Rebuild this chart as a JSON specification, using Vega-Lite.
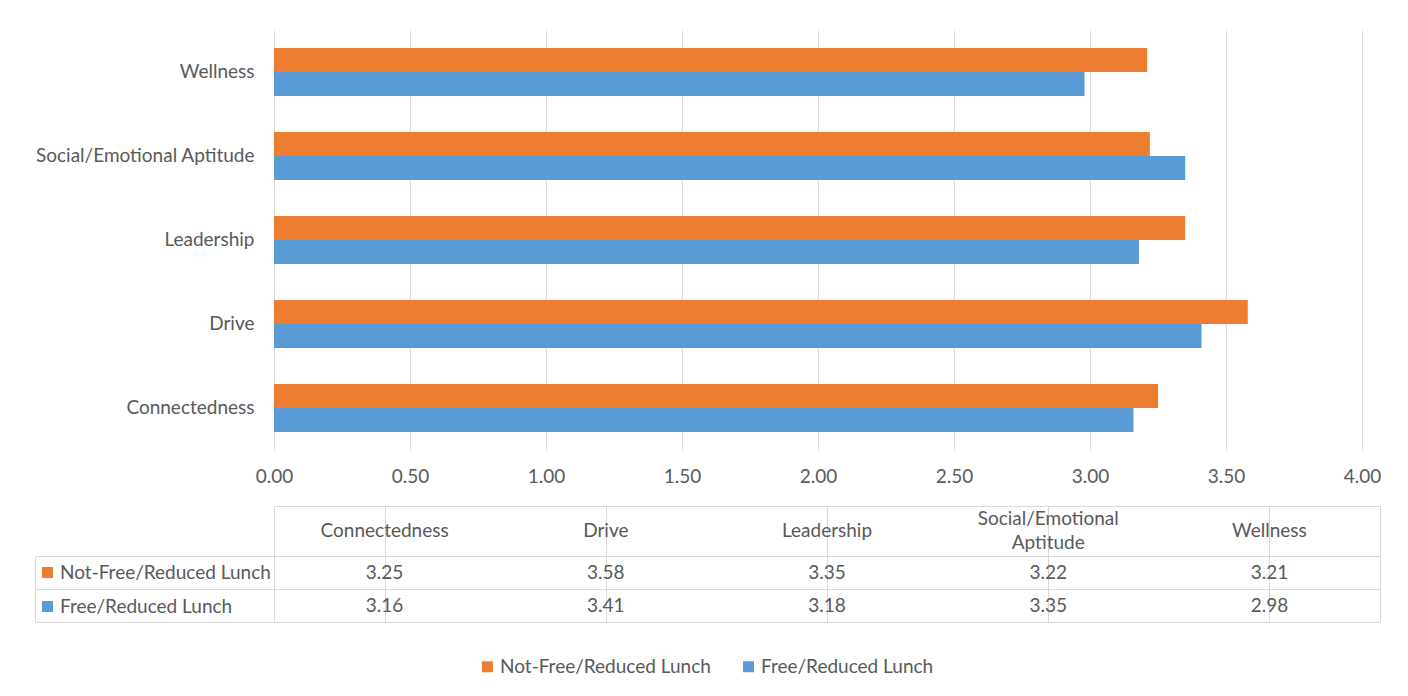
{
  "$schema": "https://vega.github.io/schema/vega-lite/v6.json",
  "padding": {"left": 34, "top": 30, "right": 25, "bottom": 24},
  "background": "white",
  "datasets": {
    "scores": [
      {"category": "Connectedness", "series": "Not-Free/Reduced Lunch", "value": 3.25},
      {"category": "Connectedness", "series": "Free/Reduced Lunch", "value": 3.16},
      {"category": "Drive", "series": "Not-Free/Reduced Lunch", "value": 3.58},
      {"category": "Drive", "series": "Free/Reduced Lunch", "value": 3.41},
      {"category": "Leadership", "series": "Not-Free/Reduced Lunch", "value": 3.35},
      {"category": "Leadership", "series": "Free/Reduced Lunch", "value": 3.18},
      {"category": "Social/Emotional Aptitude", "series": "Not-Free/Reduced Lunch", "value": 3.22},
      {"category": "Social/Emotional Aptitude", "series": "Free/Reduced Lunch", "value": 3.35},
      {"category": "Wellness", "series": "Not-Free/Reduced Lunch", "value": 3.21},
      {"category": "Wellness", "series": "Free/Reduced Lunch", "value": 2.98}
    ],
    "columns": [
      {"category": "Connectedness", "header": "Connectedness"},
      {"category": "Drive", "header": "Drive"},
      {"category": "Leadership", "header": "Leadership"},
      {"category": "Social/Emotional Aptitude", "header": "Social/Emotional\nAptitude"},
      {"category": "Wellness", "header": "Wellness"}
    ]
  },
  "bounds": "flush",
  "spacing": 56,
  "vconcat": [
    {
      "width": 1088,
      "height": 420,
      "data": {"name": "scores"},
      "mark": {"type": "bar"},
      "encoding": {
        "y": {
          "field": "category",
          "type": "nominal",
          "sort": ["Wellness", "Social/Emotional Aptitude", "Leadership", "Drive", "Connectedness"],
          "scale": {"paddingInner": 0.43, "paddingOuter": 0.215},
          "axis": {"title": null, "ticks": false, "tickSize": 0, "domain": false, "labelPadding": 20, "labelLimit": 400}
        },
        "x": {
          "field": "value",
          "type": "quantitative",
          "scale": {"domain": [0, 4], "nice": false},
          "axis": {
            "title": null,
            "values": [0, 0.5, 1, 1.5, 2, 2.5, 3, 3.5, 4],
            "format": ".2f",
            "grid": true,
            "gridColor": "#D9D9D9",
            "domain": false,
            "ticks": false,
            "tickSize": 0,
            "labelPadding": 17,
            "labelFlush": false
          }
        },
        "yOffset": {
          "field": "series",
          "type": "nominal",
          "sort": ["Not-Free/Reduced Lunch", "Free/Reduced Lunch"],
          "scale": {"paddingInner": 0, "paddingOuter": 0}
        },
        "color": {
          "field": "series",
          "type": "nominal",
          "scale": {"domain": ["Not-Free/Reduced Lunch", "Free/Reduced Lunch"], "range": ["#ED7D31", "#5B9BD5"]},
          "legend": {
            "title": null,
            "orient": "none",
            "direction": "horizontal",
            "legendX": 204,
            "legendY": 627,
            "symbolType": "square",
            "symbolSize": 121,
            "symbolStrokeWidth": 0,
            "labelOffset": 3,
            "columnPadding": 28,
            "labelFontSize": 19,
            "labelColor": "#595959",
            "labelFont": "Lato",
            "labelLimit": 400
          }
        }
      }
    },
    {
      "bounds": "flush",
      "spacing": 0,
      "vconcat": [
        {
          "width": 1106,
          "height": 50,
          "view": {"stroke": "#D9D9D9"},
          "data": {"name": "columns"},
          "mark": {
            "type": "text",
            "lineBreak": "\n",
            "lineHeight": 24,
            "dy": {"expr": "indexof(datum.header, '\\n') >= 0 ? -12 : 0"}
          },
          "encoding": {
            "x": {
              "field": "category",
              "type": "nominal",
              "sort": ["Connectedness", "Drive", "Leadership", "Social/Emotional Aptitude", "Wellness"],
              "scale": {"paddingInner": 0, "paddingOuter": 0},
              "axis": {"title": null, "labels": false, "ticks": false, "domain": false, "grid": true, "gridColor": "#D9D9D9", "bandPosition": 0}
            },
            "text": {"field": "header", "type": "nominal"}
          }
        },
        {
          "width": 1106,
          "height": 66,
          "view": {"stroke": "#D9D9D9"},
          "data": {"name": "scores"},
          "encoding": {
            "x": {
              "field": "category",
              "type": "nominal",
              "sort": ["Connectedness", "Drive", "Leadership", "Social/Emotional Aptitude", "Wellness"],
              "scale": {"paddingInner": 0, "paddingOuter": 0},
              "axis": {"title": null, "labels": false, "ticks": false, "domain": false, "grid": true, "gridColor": "#D9D9D9", "bandPosition": 0}
            },
            "y": {
              "field": "series",
              "type": "nominal",
              "sort": ["Not-Free/Reduced Lunch", "Free/Reduced Lunch"],
              "scale": {"paddingInner": 0, "paddingOuter": 0},
              "axis": {
                "title": null,
                "labels": false,
                "offset": 239,
                "domain": true,
                "domainColor": "#D9D9D9",
                "ticks": true,
                "tickSize": -239,
                "tickColor": "#D9D9D9",
                "tickBand": "extent",
                "grid": true,
                "gridColor": "#D9D9D9"
              }
            }
          },
          "layer": [
            {
              "mark": {"type": "text"},
              "encoding": {
                "text": {"field": "value", "type": "quantitative", "format": ".2f"}
              }
            },
            {
              "mark": {"type": "square", "size": 0, "filled": true},
              "encoding": {
                "fill": {
                  "field": "series",
                  "type": "nominal",
                  "sort": ["Not-Free/Reduced Lunch", "Free/Reduced Lunch"],
                  "scale": {"range": ["#ED7D31", "#5B9BD5"]},
                  "legend": {
                    "title": null,
                    "orient": "none",
                    "direction": "vertical",
                    "legendX": -236,
                    "legendY": 533,
                    "symbolType": "square",
                    "symbolSize": 121,
                    "symbolStrokeWidth": 0,
                    "symbolOpacity": 1,
                    "labelOffset": 3,
                    "rowPadding": 14,
                    "labelFontSize": 19,
                    "labelColor": "#595959",
                    "labelFont": "Lato",
                    "labelLimit": 400
                  }
                }
              }
            }
          ]
        }
      ]
    }
  ],
  "config": {
    "view": {"stroke": null},
    "font": "Lato",
    "axis": {"labelFont": "Lato", "labelFontSize": 19, "labelColor": "#595959"},
    "text": {"font": "Lato", "fontSize": 19, "color": "#595959"},
    "legend": {"padding": 0}
  }
}
